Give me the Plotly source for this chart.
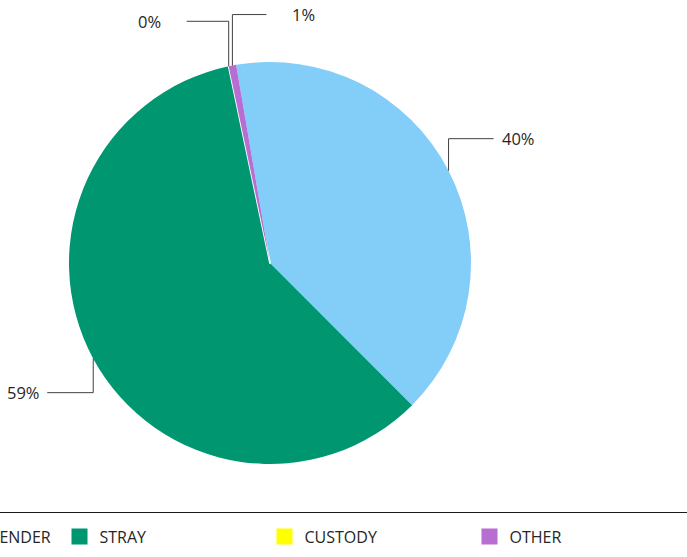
import math
import plotly.graph_objects as go

# ---- data ----
categories = ["OWNER SURRENDER", "STRAY", "CUSTODY", "OTHER"]
shares = [40.2, 59.2, 0.0, 0.6]
colors = ["#83CDF9", "#00966F", "#FFFF00", "#B86DD3"]

# ---- layout constants (pixels) ----
W, H = 687, 557
B = 50                      # bottom margin (legend sits below the plot area)
PH = H - B                  # plot-area height
CX, CY, R = 270, 263, 201
ROTATION = -9.7
FONT = "Open Sans"
TEXT_COLOR = "#262626"
LEADER_COLOR = "#404040"
LEGEND_Y = 536.5

# per-label leader style: (vertical offset, horizontal line length, text gap)
label_style = [(-32, 45, 6), (34, -46, -5), (-45, -42, -24), (-51, 34, 24)]
# which legend box each entry goes in (first one is pushed off the left edge)
legend_ids = ["legend2", "legend", "legend", "legend"]


def px(x):
    return x / W


def py(y):
    return 1 - y / PH


fig = go.Figure()

fig.add_trace(go.Pie(
    labels=categories,
    values=shares,
    sort=False,
    direction="clockwise",
    rotation=ROTATION,
    marker=dict(colors=colors,
                line=dict(color="white",
                          width=[1.8 if v == 0 else 0 for v in shares])),
    textinfo="none",
    showlegend=False,
    hoverinfo="label+percent",
    domain=dict(x=[px(CX - R), px(CX + R)], y=[py(CY + R), py(CY - R)]),
))

# legend entries (square markers)
for name, col, lg in zip(categories, colors, legend_ids):
    fig.add_trace(go.Scatter(
        x=[None], y=[None], mode="markers", name=name,
        marker=dict(symbol="square", size=16, color=col),
        showlegend=True, legend=lg,
        legendwidth=160 if lg == "legend" else None,
    ))

# ---- percentage labels with elbow leader lines, computed from the data ----
total = sum(shares)
angle = ROTATION
shapes = []
annotations = []
for v, (dy, dx, gap) in zip(shares, label_style):
    span = 360.0 * v / total
    mid = math.radians(angle + span / 2)
    angle += span
    ex = CX + R * math.sin(mid)
    ey = CY - R * math.cos(mid)
    ky = ey + dy
    hx = ex + dx
    shapes.append(dict(
        type="path", xref="paper", yref="paper",
        path=f"M {px(ex)},{py(ey)} L {px(ex)},{py(ky)} L {px(hx)},{py(ky)}",
        line=dict(color=LEADER_COLOR, width=1),
    ))
    right = dx > 0
    annotations.append(dict(
        xref="paper", yref="paper",
        x=px(hx + gap), y=py(ky),
        xanchor="left" if right else "right", yanchor="middle",
        text=f"{round(v / total * 100)}%",
        showarrow=False,
        font=dict(family=FONT, size=16.5, color=TEXT_COLOR),
    ))

# separator line above the legend
shapes.append(dict(type="line", xref="paper", yref="paper",
                   x0=0, x1=1, y0=py(512.5), y1=py(512.5),
                   line=dict(color="#1a1a1a", width=1.2)))

legend_common = dict(
    orientation="h",
    font=dict(family=FONT, size=16, color=TEXT_COLOR),
    bgcolor="rgba(0,0,0,0)",
    traceorder="normal",
    y=py(LEGEND_Y), yanchor="middle",
)

fig.update_layout(
    width=W, height=H,
    margin=dict(l=0, r=0, t=0, b=B, autoexpand=False),
    paper_bgcolor="white", plot_bgcolor="white",
    xaxis=dict(visible=False), yaxis=dict(visible=False),
    shapes=shapes,
    annotations=annotations,
    showlegend=True,
    legend=dict(x=px(59.5), xanchor="left", **legend_common),
    legend2=dict(x=px(56), xanchor="right", **legend_common),
)

fig.write_html("out.html", config={"displayModeBar": False},
               post_script="document.body.style.margin='0';")
